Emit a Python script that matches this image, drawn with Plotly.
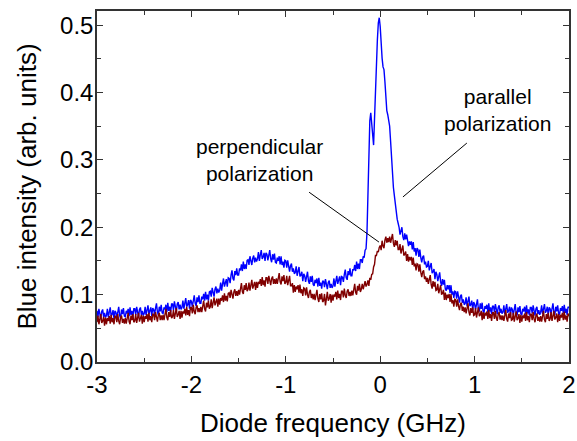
import numpy as np
import plotly.graph_objects as go

# Diode frequency grid (GHz), 0.01 GHz step from -3 to 2
freq_start = -3.0
freq_step = 0.01
n_points = 501
frequency = np.round(freq_start + freq_step * np.arange(n_points), 2)

# Blue intensity, parallel polarization, in thousandths of arb. units
parallel_milli = [
    76, 67, 79, 69, 64, 75, 78, 67, 73, 66,
    69, 79, 66, 74, 81, 68, 71, 77, 64, 76,
    74, 66, 76, 82, 69, 65, 78, 71, 80, 68,
    67, 76, 72, 79, 68, 81, 70, 76, 67, 79,
    79, 70, 82, 72, 67, 78, 81, 70, 76, 69,
    72, 82, 69, 77, 84, 71, 75, 81, 68, 80,
    78, 70, 80, 87, 74, 70, 82, 75, 85, 73,
    72, 81, 78, 85, 74, 88, 76, 82, 74, 86,
    86, 77, 90, 80, 75, 86, 89, 78, 85, 78,
    81, 91, 79, 87, 95, 82, 85, 92, 79, 92,
    90, 82, 93, 99, 87, 83, 96, 89, 99, 87,
    87, 97, 93, 101, 91, 104, 93, 100, 91, 104,
    105, 97, 110, 101, 97, 108, 112, 102, 109, 103,
    107, 118, 106, 116, 124, 112, 116, 123, 112, 125,
    124, 117, 129, 136, 124, 121, 135, 129, 139, 129,
    129, 139, 136, 145, 135, 149, 138, 145, 138, 151,
    152, 144, 157, 148, 144, 154, 158, 148, 155, 149,
    153, 163, 150, 159, 166, 153, 156, 162, 150, 162,
    160, 151, 161, 166, 153, 148, 160, 152, 161, 148,
    147, 155, 150, 157, 145, 157, 144, 149, 140, 151,
    150, 140, 151, 140, 134, 143, 146, 134, 139, 131,
    133, 142, 128, 135, 141, 127, 129, 134, 120, 131,
    128, 119, 129, 134, 120, 116, 127, 119, 128, 115,
    113, 122, 117, 124, 112, 125, 113, 118, 109, 120,
    120, 111, 123, 113, 108, 118, 121, 110, 116, 110,
    113, 124, 112, 120, 128, 116, 120, 127, 114, 127,
    126, 119, 130, 137, 125, 122, 135, 129, 139, 128,
    128, 138, 136, 144, 135, 149, 138, 146, 138, 152,
    152, 147, 157, 155, 166, 168, 192, 250, 302, 358,
    370, 352, 334, 322, 362, 398, 462, 478, 503, 511,
    498, 468, 451, 438, 434, 416, 392, 373, 367, 356,
    350, 328, 301, 283, 259, 247, 233, 224, 212, 206,
    200, 189, 196, 200, 186, 181, 191, 182, 189, 175,
    172, 179, 174, 179, 167, 178, 164, 169, 158, 169,
    167, 156, 167, 155, 148, 156, 158, 145, 149, 141,
    142, 150, 136, 142, 147, 132, 134, 138, 123, 134,
    130, 120, 129, 133, 119, 113, 123, 115, 122, 108,
    106, 114, 108, 114, 102, 114, 100, 105, 95, 105,
    104, 94, 105, 94, 88, 98, 100, 88, 93, 85,
    87, 96, 83, 90, 97, 83, 85, 91, 77, 89,
    86, 78, 87, 93, 79, 75, 87, 79, 88, 75,
    74, 83, 79, 85, 74, 87, 75, 81, 71, 83,
    83, 74, 86, 76, 71, 81, 84, 73, 79, 72,
    74, 84, 71, 79, 86, 73, 76, 82, 69, 81,
    78, 70, 80, 86, 73, 69, 81, 74, 83, 71,
    70, 79, 75, 82, 71, 84, 72, 78, 69, 81,
    81, 72, 84, 74, 69, 79, 82, 71, 77, 70,
    74, 84, 71, 79, 86, 73, 76, 82, 69, 81,
    79, 71, 81, 87, 74, 70, 82, 75, 84, 72,
    71, 80, 76, 83, 72, 85, 73, 79, 70, 82,
    80,
]

# Blue intensity, perpendicular polarization, in thousandths of arb. units
perpendicular_milli = [
    59, 69, 56, 64, 71, 58, 61, 67, 54, 66,
    56, 65, 61, 68, 57, 70, 59, 65, 56, 68,
    68, 59, 71, 61, 56, 66, 69, 58, 64, 57,
    65, 57, 67, 73, 60, 56, 69, 62, 71, 59,
    61, 71, 58, 66, 73, 60, 64, 70, 57, 69,
    59, 68, 64, 71, 60, 73, 62, 68, 59, 71,
    71, 62, 74, 65, 60, 70, 73, 62, 69, 62,
    70, 62, 72, 79, 66, 62, 74, 67, 77, 65,
    67, 77, 64, 73, 80, 67, 70, 76, 64, 76,
    66, 75, 72, 79, 69, 82, 70, 77, 68, 81,
    81, 72, 85, 75, 71, 81, 84, 74, 80, 74,
    82, 74, 85, 91, 79, 75, 88, 81, 91, 79,
    82, 93, 80, 89, 96, 84, 88, 94, 82, 94,
    85, 95, 91, 99, 89, 102, 91, 98, 90, 102,
    103, 95, 107, 98, 94, 104, 108, 98, 105, 98,
    107, 100, 110, 117, 104, 101, 114, 107, 117, 105,
    108, 118, 106, 114, 122, 109, 113, 119, 107, 119,
    110, 119, 116, 123, 113, 126, 114, 121, 112, 125,
    125, 116, 128, 119, 114, 124, 127, 116, 123, 116,
    124, 116, 126, 132, 119, 115, 127, 120, 129, 116,
    118, 128, 114, 122, 128, 113, 113, 117, 103, 114,
    104, 112, 108, 114, 103, 115, 102, 108, 98, 110,
    109, 99, 111, 100, 95, 104, 107, 95, 101, 93,
    101, 92, 102, 107, 94, 89, 101, 93, 102, 89,
    91, 101, 84, 96, 104, 91, 94, 101, 88, 100,
    91, 100, 97, 104, 93, 106, 95, 101, 92, 105,
    105, 96, 109, 99, 95, 105, 108, 98, 104, 98,
    106, 99, 109, 116, 103, 100, 113, 106, 116, 104,
    108, 116, 108, 115, 120, 112, 115, 121, 113, 125,
    122, 130, 131, 141, 145, 158, 158, 165, 163, 170,
    173, 166, 180, 172, 169, 181, 186, 177, 184, 178,
    186, 177, 186, 190, 176, 171, 181, 173, 180, 167,
    167, 175, 161, 167, 173, 158, 160, 164, 150, 160,
    149, 156, 151, 156, 144, 155, 142, 146, 136, 146,
    145, 134, 145, 133, 126, 134, 136, 123, 127, 119,
    125, 116, 124, 129, 115, 109, 120, 112, 119, 106,
    107, 116, 102, 108, 114, 100, 102, 107, 92, 103,
    92, 100, 95, 101, 89, 101, 87, 92, 82, 93,
    92, 82, 93, 83, 77, 86, 88, 76, 82, 74,
    81, 72, 82, 87, 74, 69, 80, 73, 81, 69,
    70, 80, 66, 74, 81, 68, 70, 76, 62, 74,
    64, 73, 69, 75, 64, 77, 65, 71, 61, 73,
    73, 64, 76, 66, 61, 71, 74, 63, 69, 62,
    69, 61, 71, 77, 64, 60, 72, 65, 74, 62,
    63, 73, 60, 68, 75, 62, 65, 71, 58, 70,
    60, 69, 65, 72, 61, 74, 62, 68, 59, 71,
    71, 62, 74, 64, 59, 69, 72, 61, 67, 60,
    68, 60, 70, 76, 63, 59, 71, 64, 73, 61,
    64, 74, 61, 69, 76, 63, 66, 72, 59, 71,
    61, 70, 66, 73, 62, 75, 63, 69, 60, 72,
    68,
]

parallel = np.array(parallel_milli) / 1000.0
perpendicular = np.array(perpendicular_milli) / 1000.0

x_ticks = [-3, -2, -1, 0, 1, 2]
x_tick_text = ["-3", "-2", "-1", "0", "1", "2"]
y_ticks = [0.0, 0.1, 0.2, 0.3, 0.4, 0.5]

FONT = "Liberation Sans, Arial, sans-serif"

fig = go.Figure()
fig.add_trace(go.Scatter(x=frequency, y=parallel, mode="lines",
                         line=dict(color="#0000FF", width=1.4),
                         name="parallel polarization", showlegend=False))
fig.add_trace(go.Scatter(x=frequency, y=perpendicular, mode="lines",
                         line=dict(color="#800000", width=1.4),
                         name="perpendicular polarization", showlegend=False))

# pointer lines
fig.add_shape(type="line", x0=-0.753, y0=0.252, x1=-0.013, y1=0.178,
              xref="x", yref="y", line=dict(color="black", width=1))
fig.add_shape(type="line", x0=0.918, y0=0.325, x1=0.241, y1=0.245,
              xref="x", yref="y", line=dict(color="black", width=1))

fig.add_annotation(x=-1.283, y=0.300, xref="x", yref="y",
                   text="perpendicular<br>polarization", showarrow=False,
                   font=dict(family=FONT, size=21, color="black"))
fig.add_annotation(x=1.247, y=0.374, xref="x", yref="y",
                   text="parallel<br>polarization", showarrow=False,
                   font=dict(family=FONT, size=21, color="black"))

axis_common = dict(
    showline=True, linecolor="#333333", linewidth=1.5, mirror="allticks",
    ticks="inside", ticklen=6, tickwidth=1, tickcolor="#333333",
    showgrid=False, zeroline=False,
    tickfont=dict(family=FONT, size=24, color="black"),
)

fig.update_xaxes(range=[-3, 2], tickvals=x_ticks, ticktext=x_tick_text,
                 minor=dict(dtick=0.5, ticks="inside", ticklen=4, tickcolor="#333333", showgrid=False),
                 title=dict(text="Diode frequency (GHz)", font=dict(family=FONT, size=26, color="black"), standoff=17),
                 **axis_common)
fig.update_yaxes(range=[0, 0.521], tickvals=y_ticks, tickformat=".1f", ticklabelstandoff=-3,
                 minor=dict(dtick=0.05, ticks="inside", ticklen=4, tickcolor="#333333", showgrid=False),
                 title=dict(text="Blue intensity (arb. units)", font=dict(family=FONT, size=26, color="black"), standoff=16),
                 **axis_common)

fig.update_layout(
    width=577, height=441,
    margin=dict(l=97, r=8, t=11, b=79, autoexpand=False),
    plot_bgcolor="white", paper_bgcolor="white",
    font=dict(family=FONT, color="black"),
)

fig.write_html("out.html", config={"displayModeBar": False},
               post_script="document.body.style.margin='0';document.body.style.overflow='hidden';")
